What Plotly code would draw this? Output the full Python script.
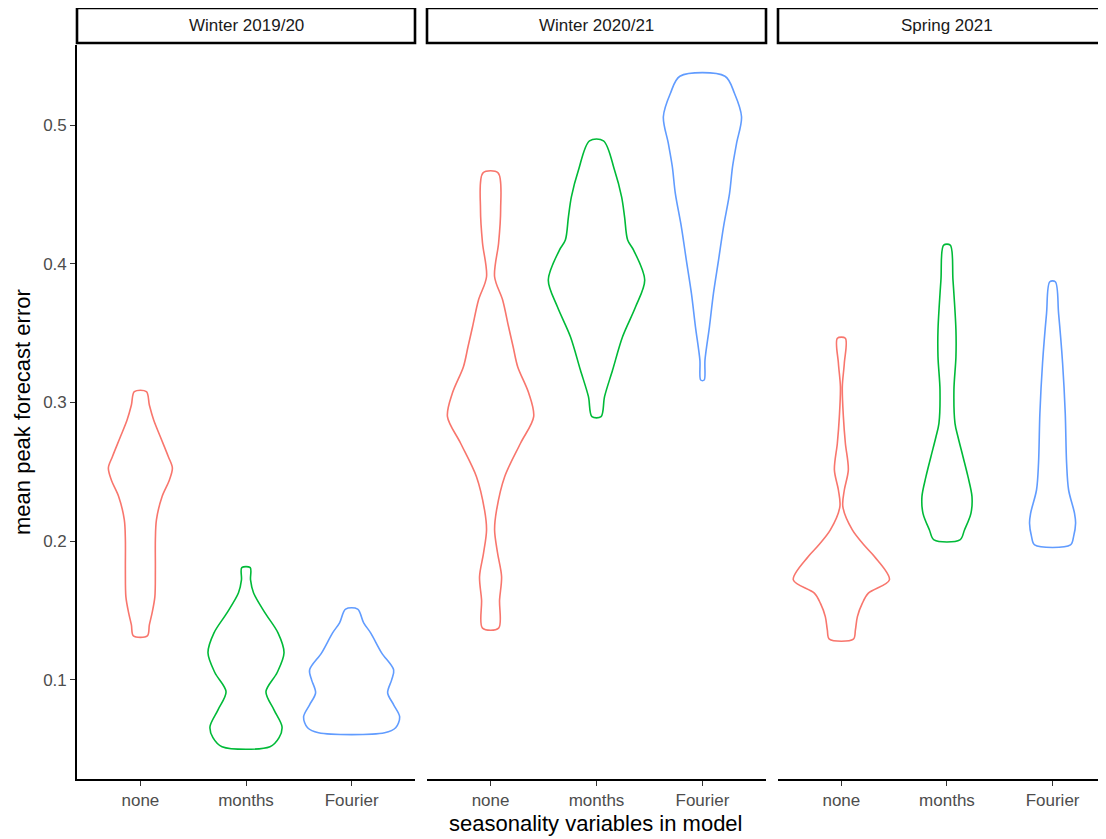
import plotly.graph_objects as go

# ---------------- data ----------------
panels = ["Winter 2019/20", "Winter 2020/21", "Spring 2021"]
categories = ["none", "months", "Fourier"]
colors = ["#F8766D", "#00BA38", "#619CFF"]
y_ticks = [0.1, 0.2, 0.3, 0.4, 0.5]
y_tick_labels = ["0.1", "0.2", "0.3", "0.4", "0.5"]

# violin density profiles: error levels (ascending) and half-widths (category units)
w19_none_y = [0.1317, 0.1396, 0.1483, 0.1598, 0.1793, 0.2009, 0.2153, 0.2321, 0.2441, 0.2528, 0.2609, 0.2753, 0.2874, 0.2982, 0.3078]
w19_none_w = [0.066, 0.085, 0.111, 0.137, 0.142, 0.142, 0.152, 0.205, 0.275, 0.303, 0.265, 0.189, 0.126, 0.085, 0.057]
w19_months_y = [0.0518, 0.0583, 0.0662, 0.0784, 0.0914, 0.1051, 0.1195, 0.1339, 0.1483, 0.1628, 0.1721, 0.1809]
w19_months_w = [0.227, 0.313, 0.341, 0.265, 0.189, 0.294, 0.360, 0.303, 0.180, 0.071, 0.043, 0.040]
w19_fourier_y = [0.0618, 0.0654, 0.0733, 0.0820, 0.0906, 0.1000, 0.1072, 0.1195, 0.1339, 0.1411, 0.1510]
w19_fourier_w = [0.313, 0.417, 0.455, 0.398, 0.341, 0.379, 0.398, 0.284, 0.180, 0.114, 0.057]

w20_none_y = [0.1373, 0.1577, 0.1744, 0.1915, 0.2081, 0.2225, 0.2465, 0.2708, 0.2898, 0.3068, 0.3258, 0.3402, 0.3546, 0.3739, 0.3907, 0.4150, 0.4388, 0.4656]
w20_none_w = [0.076, 0.085, 0.104, 0.066, 0.038, 0.057, 0.133, 0.284, 0.407, 0.360, 0.256, 0.213, 0.170, 0.114, 0.038, 0.076, 0.095, 0.071]
w20_months_y = [0.2898, 0.3042, 0.3234, 0.3474, 0.3690, 0.3883, 0.4099, 0.4171, 0.4339, 0.4483, 0.4676, 0.4887]
w20_months_w = [0.043, 0.076, 0.152, 0.246, 0.369, 0.455, 0.350, 0.294, 0.265, 0.237, 0.170, 0.066]
w20_fourier_y = [0.3162, 0.3306, 0.3546, 0.3787, 0.4027, 0.4267, 0.4508, 0.4699, 0.4868, 0.5060, 0.5228, 0.5353]
w20_fourier_w = [0.016, 0.024, 0.066, 0.104, 0.152, 0.199, 0.256, 0.284, 0.322, 0.369, 0.303, 0.213]

s21_none_y = [0.1293, 0.1360, 0.1456, 0.1553, 0.1625, 0.1721, 0.1889, 0.1961, 0.2081, 0.2249, 0.2369, 0.2514, 0.2706, 0.2898, 0.3114, 0.3283, 0.3463]
s21_none_w = [0.114, 0.133, 0.152, 0.199, 0.256, 0.455, 0.313, 0.227, 0.104, 0.014, 0.028, 0.066, 0.038, 0.019, 0.009, 0.028, 0.038]
s21_months_y = [0.2009, 0.2081, 0.2201, 0.2321, 0.2465, 0.2609, 0.2753, 0.2850, 0.3090, 0.3330, 0.3523, 0.3883, 0.4135]
s21_months_w = [0.123, 0.166, 0.227, 0.237, 0.199, 0.152, 0.104, 0.076, 0.066, 0.085, 0.085, 0.057, 0.031]
s21_fourier_y = [0.1973, 0.2033, 0.2129, 0.2201, 0.2369, 0.2562, 0.2922, 0.3283, 0.3643, 0.3871]
s21_fourier_w = [0.170, 0.199, 0.218, 0.208, 0.152, 0.133, 0.120, 0.095, 0.057, 0.026]

violins = [
    [(w19_none_y, w19_none_w), (w19_months_y, w19_months_w), (w19_fourier_y, w19_fourier_w)],
    [(w20_none_y, w20_none_w), (w20_months_y, w20_months_w), (w20_fourier_y, w20_fourier_w)],
    [(s21_none_y, s21_none_w), (s21_months_y, s21_months_w), (s21_fourier_y, s21_fourier_w)],
]

# ---------------- figure ----------------
OFF = 8                      # page body margin offset
W, H = 1106 - OFF, 839 - OFF
ML, MR, MT, MB = 77 - OFF, 0, 45 - OFF, 60
pw = W - ML - MR
ph = H - MT - MB

def px_x(p):
    return (p - OFF - ML) / pw

def px_y(p):
    return (H - MB - (p - OFF)) / ph

domains = [[px_x(77), px_x(415)], [px_x(427), px_x(766)], [px_x(778), 1.0]]
x_ranges = [[0.4, 3.6], [0.4, 3.6], [0.4, 3.506]]
y_range = [0.0285, 0.5578]

FONT = "Liberation Sans, Arial, sans-serif"
fig = go.Figure()

for pi in range(3):
    xa = "x" if pi == 0 else f"x{pi+1}"
    ya = "y" if pi == 0 else f"y{pi+1}"
    for ci in range(3):
        ys, ws = violins[pi][ci]
        pos = ci + 1
        xs = [pos + w for w in ws] + [pos - w for w in reversed(ws)] + [pos + ws[0]]
        yy = list(ys) + list(reversed(ys)) + [ys[0]]
        fig.add_trace(go.Scatter(
            x=xs, y=yy, mode="lines", xaxis=xa, yaxis=ya,
            line=dict(color=colors[ci], width=1.6, shape="spline", smoothing=0.9),
            hoverinfo="skip", showlegend=False,
        ))

layout = dict(
    width=W, height=H,
    margin=dict(l=ML, r=MR, t=MT, b=MB, pad=0),
    plot_bgcolor="white", paper_bgcolor="white",
    showlegend=False,
    font=dict(family=FONT),
)
for pi in range(3):
    key = "xaxis" if pi == 0 else f"xaxis{pi+1}"
    ykey = "yaxis" if pi == 0 else f"yaxis{pi+1}"
    yname = "y" if pi == 0 else f"y{pi+1}"
    layout[key] = dict(
        domain=domains[pi], range=x_ranges[pi], anchor=yname,
        tickmode="array", tickvals=[1, 2, 3], ticktext=categories,
        showline=True, linecolor="black", linewidth=1.6,
        ticks="outside", ticklen=5, tickwidth=1.4, tickcolor="#333333",
        tickfont=dict(size=17, color="#4d4d4d", family=FONT),
        showgrid=False, zeroline=False, fixedrange=True,
    )
    layout[ykey] = dict(
        domain=[0, 1], range=y_range, anchor="x" if pi == 0 else f"x{pi+1}",
        showgrid=False, zeroline=False, fixedrange=True,
        showline=(pi == 0), linecolor="black", linewidth=1.6,
        ticks="outside" if pi == 0 else "", ticklen=5, tickwidth=1.4, tickcolor="#333333",
        tickmode="array", tickvals=y_ticks, ticktext=y_tick_labels,
        showticklabels=(pi == 0),
        tickfont=dict(size=17, color="#4d4d4d", family=FONT),
    )
fig.update_layout(**layout)

# strip boxes and labels
strip_x = [[px_x(77), px_x(415)], [px_x(427), px_x(766)], [px_x(778), px_x(1116)]]
sy0, sy1 = px_y(43), px_y(8)
for pi in range(3):
    fig.add_shape(type="rect", xref="paper", yref="paper",
                  x0=strip_x[pi][0], x1=strip_x[pi][1], y0=sy0, y1=sy1,
                  line=dict(color="black", width=2.6), fillcolor="white", layer="above")
    fig.add_annotation(text=panels[pi], xref="paper", yref="paper",
                       x=(strip_x[pi][0] + min(strip_x[pi][1], px_x(1116))) / 2, y=(sy0 + sy1) / 2,
                       xanchor="center", yanchor="middle", showarrow=False,
                       font=dict(size=17, color="#1a1a1a", family=FONT))

# axis titles
fig.add_annotation(text="seasonality variables in model", xref="paper", yref="paper",
                   x=px_x(596), y=px_y(823), xanchor="center", yanchor="middle",
                   showarrow=False, font=dict(size=22, color="black", family=FONT))
fig.add_annotation(text="mean peak forecast error", xref="paper", yref="paper",
                   x=px_x(22), y=px_y(412), xanchor="center", yanchor="middle",
                   textangle=-90, showarrow=False,
                   font=dict(size=22, color="black", family=FONT))

fig.write_html("out.html")
